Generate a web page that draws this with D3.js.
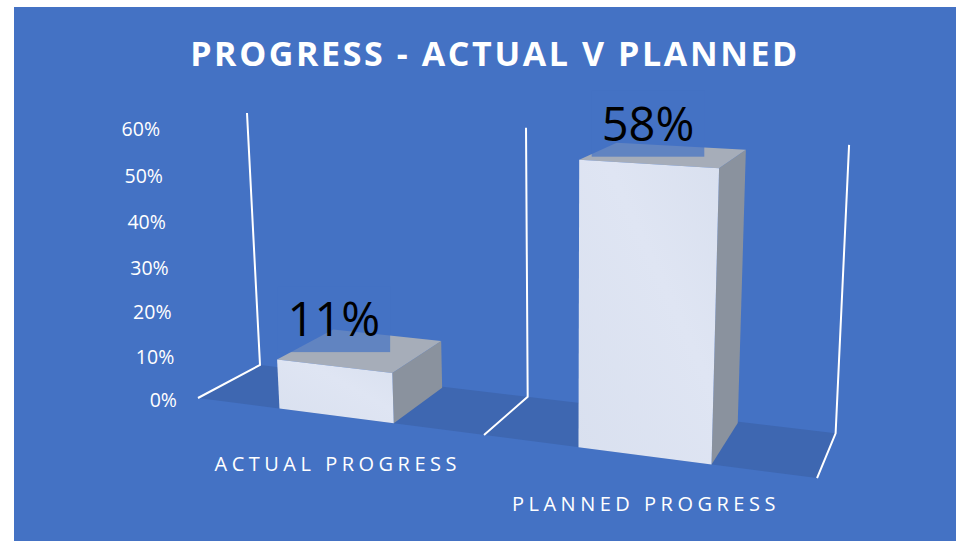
<!DOCTYPE html>
<html>
<head>
<meta charset="utf-8">
<script src="https://cdn.jsdelivr.net/npm/d3@7"></script>
<style>
  html, body { margin: 0; padding: 0; background: #ffffff; }
  svg { display: block; }
  text { font-family: "Open Sans", "Noto Sans", sans-serif; }
</style>
</head>
<body>
<svg id="chart" width="956" height="541"></svg>
<script>
// ---- data ----
const categories = ["ACTUAL PROGRESS", "PLANNED PROGRESS"];
const values = [0.11, 0.58];
const valueTicks = [0, 0.1, 0.2, 0.3, 0.4, 0.5, 0.6];
const valueLabels = ["0%", "10%", "20%", "30%", "40%", "50%", "60%"];
const title = "PROGRESS - ACTUAL V PLANNED";

// ---- colours ----
const bg = "#4472C4";
const floorFill = "#3E67B1";
const sideFill = "#8A929E";
const topFill = "#A6ADB9";

const W = 956, H = 541;
const svg = d3.select("#chart");

// chart area
svg.append("rect").attr("x", 14).attr("y", 7).attr("width", W - 14).attr("height", H - 7).attr("fill", bg);

// ---- scales in model space ----
// category axis spans 0..2 units, value axis 0..1 (wall height), depth 0 (front) .. 1 (back)
const x = d3.scaleBand().domain(categories).range([0, 2]).paddingInner(0.6).paddingOuter(0.3);
const y = d3.scaleLinear().domain([0, 0.6]).range([0, 1]);
const barDepth = 0.97;

// ---- perspective camera (projective map model -> screen) ----
const cam = {
  u: [198, 251.84, -24.98, 82.8],
  v: [398, 6.3, -277.17, -3.8],
  w: [1, -0.0706, -0.0443, 0.08]
};
function proj(X, T, Z) {
  const s = cam.w[0] + cam.w[1] * X + cam.w[2] * T + cam.w[3] * Z;
  return [(cam.u[0] + cam.u[1] * X + cam.u[2] * T + cam.u[3] * Z) / s,
          (cam.v[0] + cam.v[1] * X + cam.v[2] * T + cam.v[3] * Z) / s];
}
const line = d3.line();
const poly = pts => line(pts) + "Z";

// ---- floor ----
const x0 = x.range()[0], x1 = x.range()[1];
svg.append("path")
  .attr("d", poly([proj(x0, 0, 0), proj(x1, 0, 0), proj(x1, 0, 1), proj(x0, 0, 1)]))
  .attr("fill", floorFill);

// ---- category gridlines on back wall and floor ----
const bounds = d3.range(categories.length + 1).map(i => x0 + i * x.step());
svg.append("g").selectAll("path").data(bounds).join("path")
  .attr("d", X => line([proj(X, 1, 1), proj(X, 0, 1), proj(X, 0, 0)]))
  .attr("fill", "none").attr("stroke", "#FFFFFF").attr("stroke-width", 2)
  .attr("stroke-linejoin", "miter");

// ---- value axis labels ----
svg.append("g").selectAll("text").data(valueTicks).join("text")
  .attr("x", d => proj(x0, y(d), 0)[0] - 21)
  .attr("y", d => proj(x0, y(d), 0)[1] + 4)
  .attr("text-anchor", "end")
  .attr("dominant-baseline", "middle")
  .attr("font-size", 19.5)
  .attr("fill", "#FFFFFF")
  .text((d, i) => valueLabels[i]);

// ---- bars ----
const defs = svg.append("defs");
const grad = defs.append("linearGradient").attr("id", "frontGrad")
  .attr("x1", "0%").attr("y1", "100%").attr("x2", "100%").attr("y2", "0%");
grad.append("stop").attr("offset", "0%").attr("stop-color", "#D9E0EF");
grad.append("stop").attr("offset", "60%").attr("stop-color", "#DFE5F3");
grad.append("stop").attr("offset", "100%").attr("stop-color", "#D9E0EF");

const bars = categories.map((c, i) => ({ c, v: values[i], a: x(c), b: x(c) + x.bandwidth(), t: y(values[i]) }));
const gBars = svg.append("g");
bars.forEach(d => {
  const g = gBars.append("g");
  // right side face
  g.append("path")
    .attr("d", poly([proj(d.b, 0, 0), proj(d.b, 0, barDepth), proj(d.b, d.t, barDepth), proj(d.b, d.t, 0)]))
    .attr("fill", sideFill);
  // top face
  g.append("path")
    .attr("d", poly([proj(d.a, d.t, 0), proj(d.b, d.t, 0), proj(d.b, d.t, barDepth), proj(d.a, d.t, barDepth)]))
    .attr("fill", topFill);
  // front face
  g.append("path")
    .attr("d", poly([proj(d.a, 0, 0), proj(d.b, 0, 0), proj(d.b, d.t, 0), proj(d.a, d.t, 0)]))
    .attr("fill", "url(#frontGrad)");
});

// ---- data labels ----
const fmt = d3.format(".0%");
bars.forEach(d => {
  const mid = (d.a + d.b) / 2;
  const cx = proj(mid, d.t, 0)[0];
  const base = proj(mid, d.t, barDepth / 2)[1] - 14;
  const g = svg.append("g");
  const box = g.append("rect");
  const label = g.append("text")
    .attr("x", cx).attr("y", base)
    .attr("text-anchor", "middle")
    .attr("font-size", 47)
    .attr("fill", "#000000")
    .text(fmt(d.v));
  const bb = label.node().getBBox();
  box.attr("x", bb.x - 10).attr("y", bb.y).attr("width", bb.width + 20).attr("height", bb.height + 2)
    .attr("fill", bg).attr("fill-opacity", 0.7);
});

// ---- category labels ----
svg.append("g").selectAll("text").data(bars).join("text")
  .attr("x", d => proj((d.a + d.b) / 2, 0, 0)[0] + 2)
  .attr("y", d => proj((d.a + d.b) / 2, 0, 0)[1] + 55)
  .attr("text-anchor", "middle")
  .attr("font-size", 20)
  .attr("letter-spacing", 4.5)
  .attr("fill", "#FFFFFF")
  .text(d => d.c);

// ---- title ----
svg.append("text")
  .attr("x", 495).attr("y", 66)
  .attr("text-anchor", "middle")
  .attr("font-size", 34)
  .attr("font-weight", 700)
  .attr("letter-spacing", 2.6)
  .attr("fill", "#FFFFFF")
  .text(title);
</script>
</body>
</html>
